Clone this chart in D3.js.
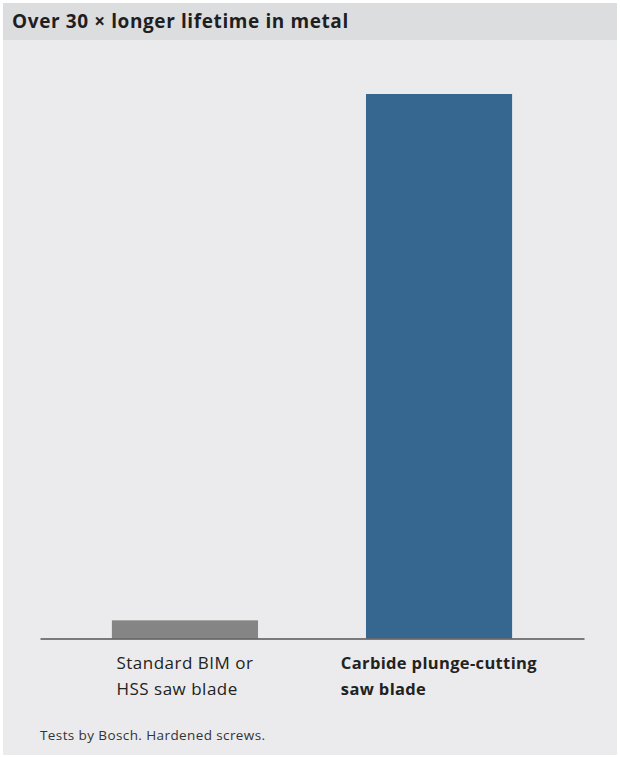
<!DOCTYPE html>
<html>
<head>
<meta charset="utf-8">
<script src="https://cdn.jsdelivr.net/npm/d3@7"></script>
<style>
  body { margin: 0; background: #ffffff; }
  svg { display: block; font-family: "Open Sans", "Noto Sans", sans-serif; }
</style>
</head>
<body>
<div id="chart"></div>
<script>
// chart data
var title = "Over 30 × longer lifetime in metal";
var categories = ["standard", "carbide"];
var categoryLabels = [["Standard BIM or", "HSS saw blade"], ["Carbide plunge-cutting", "saw blade"]];
var lifetimeValues = [1, 30];
var barColors = ["#858585", "#366791"];
var labelWeights = ["normal", "bold"];
var footnote = "Tests by Bosch. Hardened screws.";

var width = 620, height = 757;

var svg = d3.select("#chart").append("svg")
  .attr("width", width)
  .attr("height", height);

// panel background + header band
svg.append("rect")
  .attr("x", 3).attr("y", 3)
  .attr("width", 614).attr("height", 752)
  .attr("fill", "#ebebed");

svg.append("rect")
  .attr("x", 3).attr("y", 3)
  .attr("width", 614).attr("height", 37)
  .attr("fill", "#dcdddf");

svg.append("text")
  .attr("x", 12).attr("y", 28)
  .attr("font-size", 19)
  .attr("letter-spacing", 0.6)
  .attr("font-weight", "bold")
  .attr("fill", "#1f1f1f")
  .text(title);

// scales
var x = d3.scaleBand()
  .domain(categories)
  .range([40, 584])
  .paddingInner(0.425)
  .paddingOuter(0.283);

var y = d3.scaleLinear()
  .domain([0, 30])
  .range([638.5, 94]);

// bars
svg.selectAll(".bar")
  .data(categories)
  .enter().append("rect")
  .attr("class", "bar")
  .attr("x", function (d) { return x(d); })
  .attr("y", function (d, i) { return y(lifetimeValues[i]); })
  .attr("width", x.bandwidth())
  .attr("height", function (d, i) { return y(0) - y(lifetimeValues[i]); })
  .attr("fill", function (d, i) { return barColors[i]; });

// baseline axis (no ticks)
var axis = svg.append("g")
  .attr("transform", "translate(0," + y(0) + ")")
  .call(d3.axisBottom(x).tickSize(0).tickFormat(""));
axis.select(".domain")
  .attr("stroke", "#555")
  .attr("stroke-width", 1.5);

// category labels, left-aligned block centred on the band
var labelSizes = [17, 16.5];
var labelSpacing = [0.5, 0.35];
categories.forEach(function (c, i) {
  var g = svg.append("text")
    .attr("font-size", labelSizes[i])
    .attr("letter-spacing", labelSpacing[i])
    .attr("font-weight", labelWeights[i])
    .attr("fill", "#222");
  categoryLabels[i].forEach(function (line, j) {
    g.append("tspan")
      .attr("x", 0)
      .attr("y", 669 + j * 26)
      .text(line);
  });
  var w = g.node().getBBox().width;
  var cx = x(c) + x.bandwidth() / 2;
  g.selectAll("tspan").attr("x", cx - w / 2);
});

// footnote
svg.append("text")
  .attr("x", 40).attr("y", 740)
  .attr("font-size", 13.5)
  .attr("letter-spacing", 0.4)
  .attr("fill", "#333")
  .text(footnote);
</script>
</body>
</html>
